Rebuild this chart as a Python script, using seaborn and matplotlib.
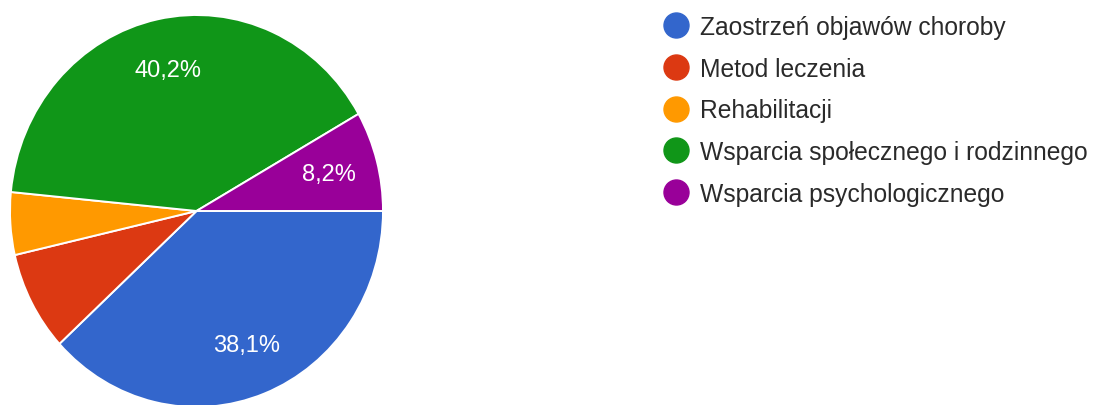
import numpy as np
import matplotlib
matplotlib.use("Agg")
import matplotlib.pyplot as plt
from matplotlib.lines import Line2D
import seaborn as sns

# Response counts per category
categories = [
    "Zaostrzeń objawów choroby",
    "Metod leczenia",
    "Rehabilitacji",
    "Wsparcia społecznego i rodzinnego",
    "Wsparcia psychologicznego",
]
counts = [37, 8, 5, 39, 8]
colors = ["#3366CC", "#DC3912", "#FF9900", "#109618", "#990099"]
show_label = [True, False, False, True, True]

sns.set_theme(style="white")
plt.rcParams["font.family"] = ["Liberation Sans", "DejaVu Sans"]

W, H = 1096, 406
fig = plt.figure(figsize=(W / 100, H / 100), dpi=100)
fig.patch.set_facecolor("white")

# pie area in pixels (slightly taller than wide)
cx, cy, rx, ry = 196.5, 212.0, 186.5, 196.0
ax = fig.add_axes([(cx - rx) / W, (H - cy - ry) / H, 2 * rx / W, 2 * ry / H])

wedges, _ = ax.pie(
    counts,
    colors=colors,
    startangle=0,
    counterclock=False,
    radius=1.0,
    wedgeprops=dict(edgecolor="white", linewidth=1.4),
)
ax.set_aspect("auto")
ax.set_xlim(-1, 1)
ax.set_ylim(-1, 1)
ax.axis("off")

total = sum(counts)
for w, c, show in zip(wedges, counts, show_label):
    if not show:
        continue
    mid = np.deg2rad((w.theta1 + w.theta2) / 2)
    r = 0.735
    pct = f"{100 * c / total:.1f}".replace(".", ",") + "%"
    ax.text(r * np.cos(mid), r * np.sin(mid), pct, color="white",
            fontsize=17, ha="center", va="center")

handles = [
    Line2D([], [], marker="o", linestyle="", markersize=18,
           markerfacecolor=col, markeredgecolor=col)
    for col in colors
]
fig.legend(
    handles, categories,
    loc="upper left",
    bbox_to_anchor=(663.4 / W, 1 - 16 / H),
    frameon=False,
    fontsize=17.7,
    handlelength=1.0,
    handletextpad=0.5,
    labelspacing=0.72,
    borderpad=0,
    borderaxespad=0,
    labelcolor="#2a2a2a",
)

fig.savefig("out.png", dpi=100, facecolor="white")
